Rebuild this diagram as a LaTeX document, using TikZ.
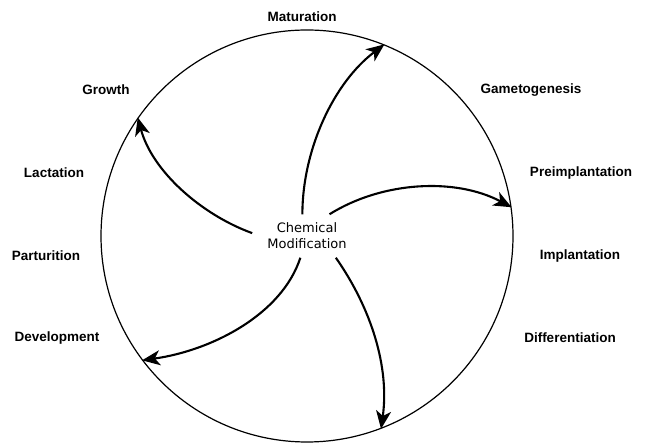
\documentclass[tikz,border=0pt]{standalone}
\usepackage{fontspec}
\setmainfont{Liberation Sans}
\newfontfamily\chemfont{DejaVu Sans}
\usetikzlibrary{shapes.geometric, arrows.meta, positioning}

\begin{document}
\begin{tikzpicture}[x=1pt, y=1pt, font=\fontsize{13.5}{16}\selectfont\bfseries]
    \tikzstyle{stage} = [inner sep=0pt, anchor=center]
    \tikzstyle{hub} = [rectangle, align=center, inner xsep=15pt, inner ysep=8.5pt, font=\chemfont\fontsize{13}{16}\selectfont]
    \tikzstyle{arrow} = [line width=2.1pt, -{Stealth[length=18pt, width=15pt, inset=5pt]}]

    \useasboundingbox (0,0) rectangle (645,443);

    % cycle
    \node (ring) [circle, draw=black, line width=1.2pt, minimum size=412pt, inner sep=0pt] at (307,207) {};
    \node (chem) [hub] at (307,207) {Chemical\\Modification};

    % stages round the cycle
    \node (matur) [stage] at (302,426) {Maturation};
    \node (growth) [stage] at (106,353) {Growth};
    \node (gameto) [stage] at (531,353) {Gametogenesis};
    \node (lact) [stage] at (54,270) {Lactation};
    \node (preimp) [stage] at (581,270) {Preimplantation};
    \node (partur) [stage] at (46,187) {Parturition};
    \node (implant) [stage] at (580,187) {Implantation};
    \node (develop) [stage] at (57,105) {Development};
    \node (differ) [stage] at (570,105) {Differentiation};

    % spiral arrows
    \draw [arrow] (chem.102) to[out=90, in=217, distance=64pt] (ring.68);
    \draw [arrow] (chem.44) to[out=32, in=152, distance=63pt] (ring.8);
    \draw [arrow] (chem.-37) to[out=-55, in=82, distance=62pt] (ring.-69);
    \draw [arrow] (chem.-107) to[out=252, in=8, out distance=60pt, in distance=70pt] (ring.217);
    \draw [arrow] (chem.177) to[out=160, in=285, distance=55pt] (ring.145);
\end{tikzpicture}
\end{document}
